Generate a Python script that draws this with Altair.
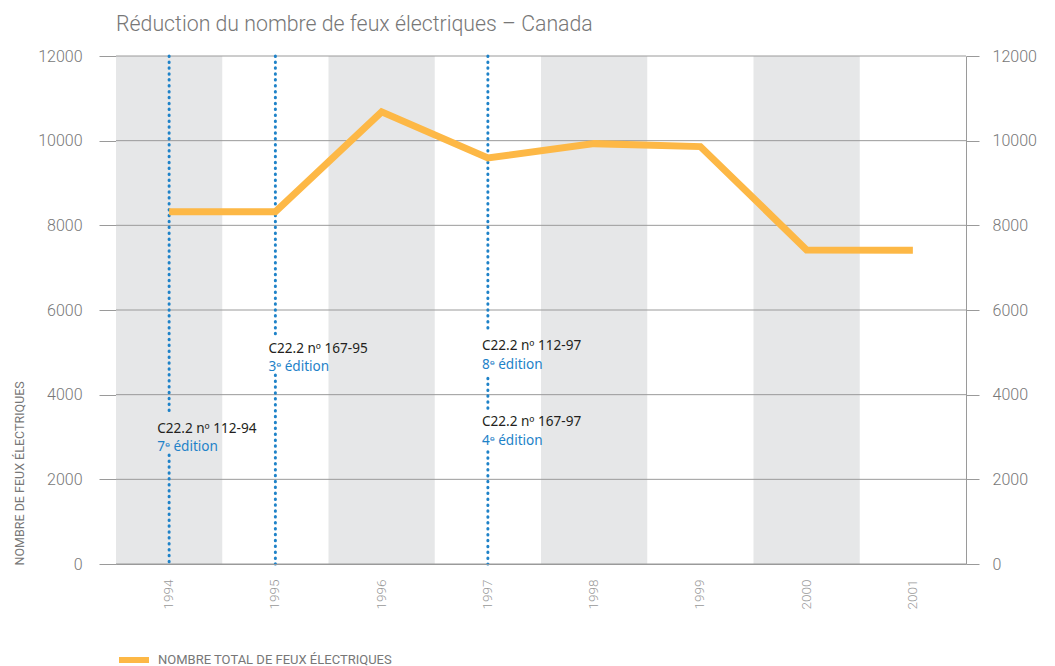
import altair as alt
import pandas as pd

years = ["1994", "1995", "1996", "1997", "1998", "1999", "2000", "2001"]
fires = [8320, 8320, 10680, 9590, 9930, 9860, 7420, 7410]
shaded_years = ["1994", "1996", "1998", "2000"]
y_ticks = [0, 2000, 4000, 6000, 8000, 10000, 12000]
series_name = "NOMBRE TOTAL DE FEUX ÉLECTRIQUES"

# dotted standard-edition lines (segments between the annotation texts)
rule_year = ["1994", "1994", "1995", "1995", "1997", "1997", "1997"]
rule_from = [12000, 2575, 12000, 4465, 12000, 4390, 2650]
rule_to = [3570, 0, 5360, 0, 5460, 3570, 0]

# annotations
ann_year = ["1994", "1995", "1997", "1997"]
ann_code = ["C22.2 nº 112-94", "C22.2 nº 167-95", "C22.2 nº 112-97", "C22.2 nº 167-97"]
ann_code_value = [3180, 5090, 5140, 3345]
ann_edition = ["7ᵉ édition", "3ᵉ édition", "8ᵉ édition", "4ᵉ édition"]
ann_edition_value = [2775, 4665, 4690, 2915]

ORANGE = "#FDB846"
BLUE = "#1E82C8"
GREY_BAND = "#E6E7E8"
GRID = "#9A9A9A"
FONT = "Roboto"

df_line = pd.DataFrame({"year": years, "fires": fires, "series": series_name})
df_band = pd.DataFrame({"year": shaded_years})
df_grid = pd.DataFrame({"v": y_ticks})
df_rule = pd.DataFrame({"year": rule_year, "a": rule_from, "b": rule_to})

x_scale = alt.Scale(type="band", domain=years, paddingInner=0, paddingOuter=0)
y_scale = alt.Scale(domain=[0, 12000], nice=False, zero=True)

x_axis = alt.Axis(
    labelAngle=270, labelAlign="right", labelBaseline="middle", labelPadding=15,
    ticks=False, domain=True, domainColor=GRID, labelColor="#999", labelFontSize=13.5,
    labelFont=FONT, labelFontWeight=300, title=None, grid=False,
)

left_axis = alt.Axis(
    values=y_ticks, format="d", orient="left", tickSize=17, tickColor=GRID,
    domainColor=GRID, labelPadding=17, labelColor="#777", labelFontSize=16,
    labelFont=FONT, labelFontWeight=300, grid=False,
    title="NOMBRE DE FEUX ÉLECTRIQUES", titleFont=FONT, titleFontSize=12.5,
    titleFontWeight="normal", titleColor="#777", titleAngle=270, titleAlign="left",
    titleBaseline="middle", titleX=-97, titleY=509,
)
right_axis = alt.Axis(
    values=y_ticks, format="d", orient="right", tickSize=13, tickColor=GRID,
    domainColor=GRID, labelPadding=13, labelColor="#777", labelFontSize=16,
    labelFont=FONT, labelFontWeight=300, grid=False, title=None,
)


def X(field="year:N"):
    return alt.X(field, scale=x_scale, axis=x_axis)


def Y(field=None, **kw):
    if field is None:
        return alt.Y(scale=y_scale, axis=left_axis, **kw)
    return alt.Y(field, scale=y_scale, axis=left_axis, **kw)


bands = alt.Chart(df_band).mark_rect(color=GREY_BAND).encode(
    x=X(),
    y=Y(datum=12000),
    y2=alt.Y2(datum=0),
)

grid = alt.Chart(df_grid).mark_rule(color=GRID, strokeWidth=1).encode(
    y=Y("v:Q")
)

rules = alt.Chart(df_rule).mark_rule(
    color=BLUE, strokeWidth=3, strokeDash=[0.5, 5.4], strokeCap="round"
).encode(
    x=X(),
    y=Y("a:Q"),
    y2="b:Q",
)

line = alt.Chart(df_line).mark_line(strokeWidth=7, strokeJoin="miter").encode(
    x=X(),
    y=Y("fires:Q"),
    color=alt.Color(
        "series:N",
        scale=alt.Scale(domain=[series_name], range=[ORANGE]),
        legend=alt.Legend(
            orient="none", legendX=0, legendY=586, title=None, symbolType="stroke",
            symbolSize=900, symbolStrokeWidth=6, labelFont=FONT, labelFontSize=13,
            labelColor="#777", labelOffset=6, padding=0, labelLimit=0,
        ),
    ),
)

dx_map = {"1994": -12, "1995": -7, "1997": -6}
texts = []
for i in range(len(ann_year)):
    dx = dx_map[ann_year[i]]
    d1 = pd.DataFrame({"year": [ann_year[i]], "v": [ann_code_value[i]], "t": [ann_code[i]]})
    d2 = pd.DataFrame({"year": [ann_year[i]], "v": [ann_edition_value[i]], "t": [ann_edition[i]]})
    for d, col in ((d1, "#231F20"), (d2, BLUE)):
        texts.append(
            alt.Chart(d).mark_text(
                align="left", baseline="middle", dx=dx, font="Noto Sans",
                fontSize=13.6, color=col,
            ).encode(
                x=X(),
                y=Y("v:Q"),
                text="t:N",
            )
        )

main = alt.layer(bands, grid, rules, line, *texts)

right = alt.Chart(df_grid).mark_rule(opacity=0).encode(
    y=alt.Y("v:Q", scale=y_scale, axis=right_axis)
)

chart = (
    alt.layer(main, right)
    .resolve_scale(y="independent")
    .properties(
        width=850,
        height=508,
        title=alt.TitleParams(
            "Réduction du nombre de feux électriques – Canada",
            anchor="start", frame="group", font=FONT, fontSize=21.3, fontWeight=300,
            color="#777", offset=13,
        ),
        padding={"left": 5, "top": 5, "right": 5, "bottom": 5},
    )
    .configure_view(stroke=None)
)

chart.save("out.html", embed_options={"renderer": "svg", "actions": False})
